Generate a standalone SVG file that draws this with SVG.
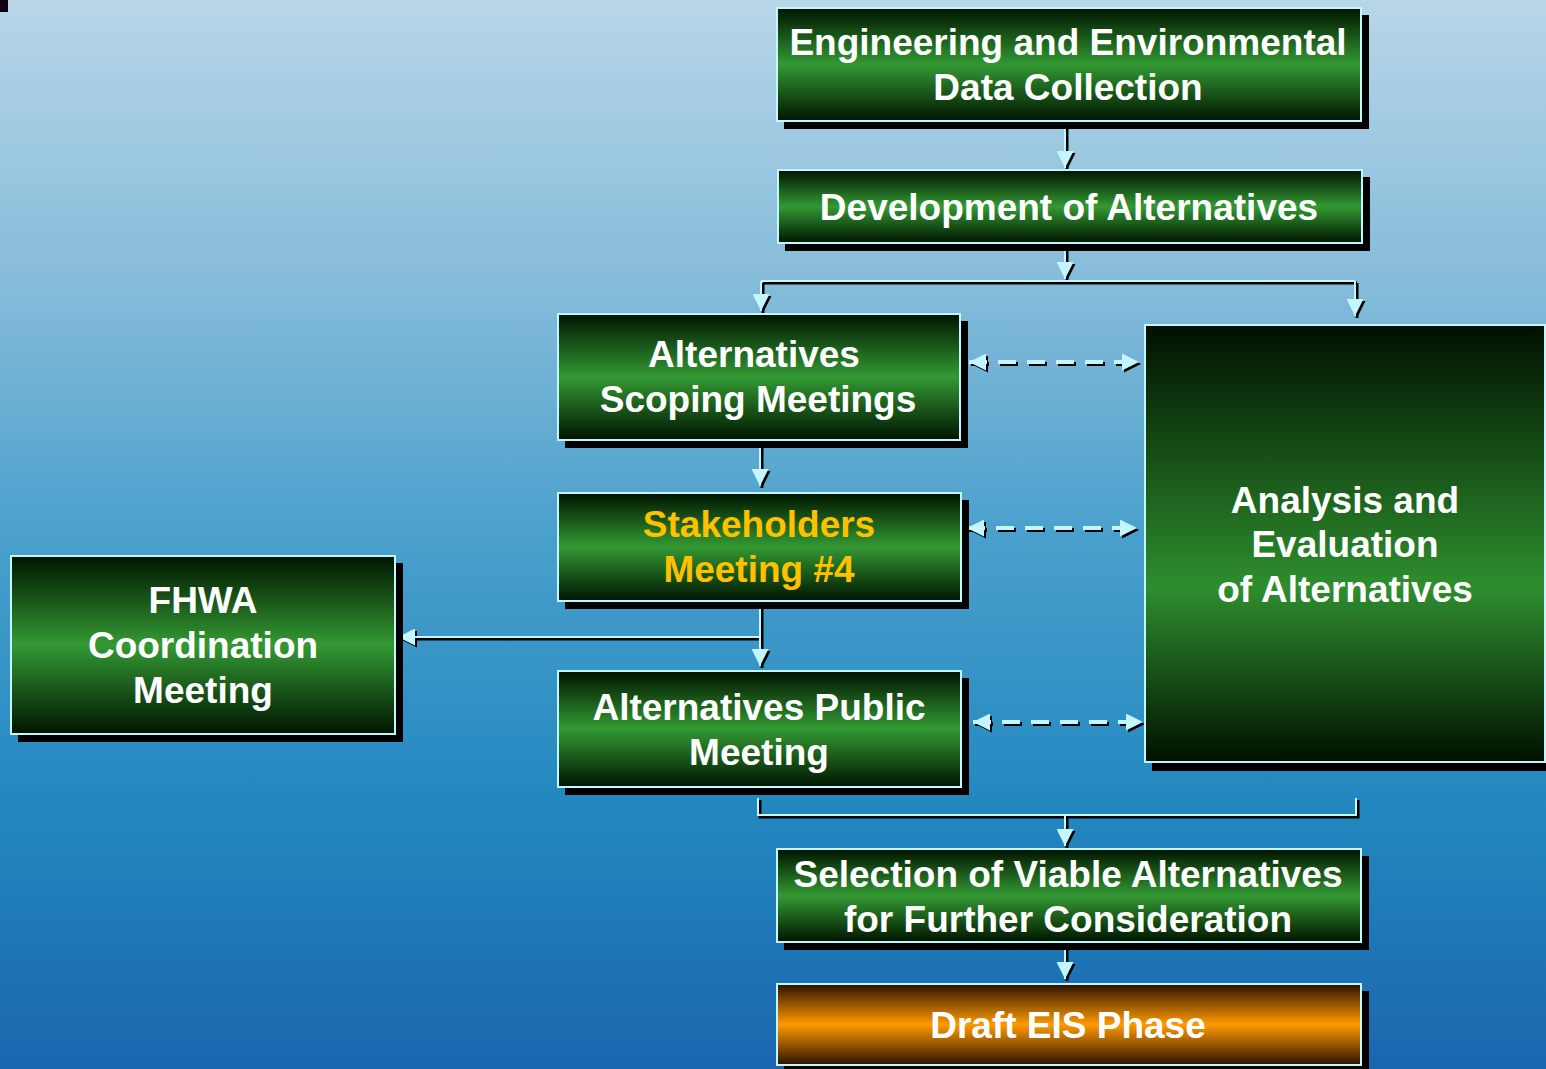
<svg xmlns="http://www.w3.org/2000/svg" width="1546" height="1069" viewBox="0 0 1546 1069">
<defs>
<linearGradient id="bg" x1="0" y1="0" x2="0" y2="1">
<stop offset="0" stop-color="#b8d6e8"/>
<stop offset="0.28" stop-color="#82bad9"/>
<stop offset="0.5" stop-color="#4aa0cc"/>
<stop offset="0.75" stop-color="#2388c0"/>
<stop offset="1" stop-color="#1a66ae"/>
</linearGradient>
<linearGradient id="gg" x1="0" y1="0" x2="0" y2="1">
<stop offset="0" stop-color="#001400"/>
<stop offset="0.5" stop-color="#339933"/>
<stop offset="1" stop-color="#001400"/>
</linearGradient>
<linearGradient id="ga" x1="0" y1="0" x2="0" y2="1">
<stop offset="0" stop-color="#001000"/>
<stop offset="0.6" stop-color="#2e8e2e"/>
<stop offset="1" stop-color="#001000"/>
</linearGradient>
<linearGradient id="go" x1="0" y1="0" x2="0" y2="1">
<stop offset="0" stop-color="#2a1200"/>
<stop offset="0.5" stop-color="#ff9900"/>
<stop offset="1" stop-color="#2a1200"/>
</linearGradient>
<marker id="mc" markerUnits="userSpaceOnUse" markerWidth="17" markerHeight="17" refX="16" refY="8" orient="auto-start-reverse" viewBox="0 0 16 16">
<path d="M0,0 L16,8 L0,16 z" fill="#c4f6ff"/>
</marker>
<marker id="mk" markerUnits="userSpaceOnUse" markerWidth="17" markerHeight="17" refX="16" refY="8" orient="auto-start-reverse" viewBox="0 0 16 16">
<path d="M0,0 L16,8 L0,16 z" fill="#000"/>
</marker>
<style>
.sh{fill:#000}
.box{stroke:#c4f6ff;stroke-width:2}
.t{font-family:"Liberation Sans",Arial,sans-serif;font-weight:bold;font-size:37px;fill:#fff;text-anchor:middle}
.y{fill:#ffc000}
.ln{fill:none;stroke:#c4f6ff;stroke-width:2}
.lk{fill:none;stroke:#000;stroke-width:3}
.d{stroke-dasharray:18,11;stroke-width:4}
</style>
</defs>
<rect width="1546" height="1069" fill="url(#bg)"/>
<rect x="0" y="0" width="8" height="12" fill="#100010"/>

<g id="connectors">
<g transform="translate(2,2)">
<path class="lk" d="M1065,121 V168" marker-end="url(#mk)"/>
<path class="lk" d="M1065,243 V279" marker-end="url(#mk)"/>
<path class="lk" d="M761,281 H1355"/>
<path class="lk" d="M761,281 V311" marker-end="url(#mk)"/>
<path class="lk" d="M1355,281 V316" marker-end="url(#mk)"/>
<path class="lk" d="M760,440 V486" marker-end="url(#mk)"/>
<path class="lk" d="M760,601 V666" marker-end="url(#mk)"/>
<path class="lk" d="M760,637 H398" marker-end="url(#mk)"/>
<path class="lk d" d="M969,362 H1139" marker-start="url(#mk)" marker-end="url(#mk)"/>
<path class="lk d" d="M967,528 H1137" marker-start="url(#mk)" marker-end="url(#mk)"/>
<path class="lk d" d="M973,722 H1143" marker-start="url(#mk)" marker-end="url(#mk)"/>
<path class="lk" d="M758,798 V815 H1356 V798"/>
<path class="lk" d="M1065,815 V846" marker-end="url(#mk)"/>
<path class="lk" d="M1065,942 V979" marker-end="url(#mk)"/>
</g>
<path class="ln" d="M1065,121 V168" marker-end="url(#mc)"/>
<path class="ln" d="M1065,243 V279" marker-end="url(#mc)"/>
<path class="ln" d="M761,281 H1355"/>
<path class="ln" d="M761,281 V311" marker-end="url(#mc)"/>
<path class="ln" d="M1355,281 V316" marker-end="url(#mc)"/>
<path class="ln" d="M760,440 V486" marker-end="url(#mc)"/>
<path class="ln" d="M760,601 V666" marker-end="url(#mc)"/>
<path class="ln" d="M760,637 H398" marker-end="url(#mc)"/>
<path class="ln d" d="M969,362 H1139" marker-start="url(#mc)" marker-end="url(#mc)"/>
<path class="ln d" d="M967,528 H1137" marker-start="url(#mc)" marker-end="url(#mc)"/>
<path class="ln d" d="M973,722 H1143" marker-start="url(#mc)" marker-end="url(#mc)"/>
<path class="ln" d="M758,798 V815 H1356 V798"/>
<path class="ln" d="M1065,815 V846" marker-end="url(#mc)"/>
<path class="ln" d="M1065,942 V979" marker-end="url(#mc)"/>
</g>

<g id="n-data">
<rect class="sh" x="784" y="15" width="585" height="114"/>
<rect class="box" x="777" y="8" width="584" height="113" fill="url(#gg)"/>
<text class="t" x="1068" y="55">Engineering and Environmental</text>
<text class="t" x="1068" y="100">Data Collection</text>
</g>
<g id="n-dev">
<rect class="sh" x="785" y="177" width="585" height="74"/>
<rect class="box" x="778" y="170" width="584" height="73" fill="url(#gg)"/>
<text class="t" x="1069" y="220">Development of Alternatives</text>
</g>
<g id="n-scoping">
<rect class="sh" x="565" y="321" width="403" height="127"/>
<rect class="box" x="558" y="314" width="402" height="126" fill="url(#gg)"/>
<text class="t" x="754" y="367">Alternatives</text>
<text class="t" x="758" y="412">Scoping Meetings</text>
</g>
<g id="n-stake">
<rect class="sh" x="565" y="500" width="404" height="109"/>
<rect class="box" x="558" y="493" width="403" height="108" fill="url(#gg)"/>
<text class="t y" x="759" y="537">Stakeholders</text>
<text class="t y" x="759" y="582">Meeting #4</text>
</g>
<g id="n-public">
<rect class="sh" x="565" y="678" width="404" height="117"/>
<rect class="box" x="558" y="671" width="403" height="116" fill="url(#gg)"/>
<text class="t" x="759" y="720">Alternatives Public</text>
<text class="t" x="759" y="765">Meeting</text>
</g>
<g id="n-fhwa">
<rect class="sh" x="18" y="563" width="385" height="179"/>
<rect class="box" x="11" y="556" width="384" height="178" fill="url(#gg)"/>
<text class="t" x="203" y="613">FHWA</text>
<text class="t" x="203" y="658">Coordination</text>
<text class="t" x="203" y="703">Meeting</text>
</g>
<g id="n-analysis">
<rect class="sh" x="1152" y="332" width="394" height="439"/>
<rect class="box" x="1145" y="325" width="400" height="437" fill="url(#ga)"/>
<text class="t" x="1345" y="513">Analysis and</text>
<text class="t" x="1345" y="557">Evaluation</text>
<text class="t" x="1345" y="602">of Alternatives</text>
</g>
<g id="n-selection">
<rect class="sh" x="784" y="856" width="585" height="94"/>
<rect class="box" x="777" y="849" width="584" height="93" fill="url(#gg)"/>
<text class="t" x="1068" y="887">Selection of Viable Alternatives</text>
<text class="t" x="1068" y="932">for Further Consideration</text>
</g>
<g id="n-draft">
<rect class="sh" x="784" y="991" width="585" height="82"/>
<rect class="box" x="777" y="984" width="584" height="81" fill="url(#go)"/>
<text class="t" x="1068" y="1038">Draft EIS Phase</text>
</g>
</svg>
